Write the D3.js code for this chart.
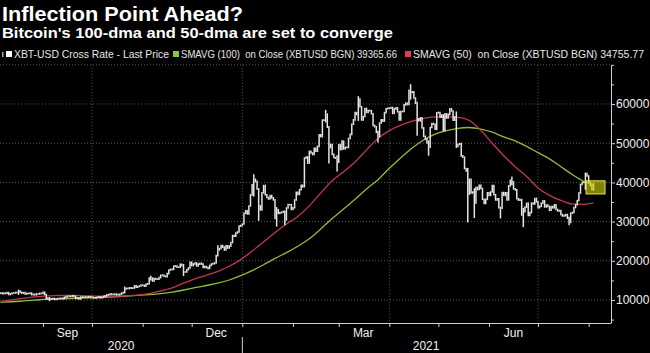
<!DOCTYPE html>
<html>
<head>
<meta charset="utf-8">
<script src="https://cdn.jsdelivr.net/npm/d3@7"></script>
<style>
    html, body { margin: 0; padding: 0; background: #000; }
    svg { display: block; }
    text { font-family: "Liberation Sans", Arial, sans-serif; }
</style>
</head>
<body>
<svg id="chart"></svg>
<script>
const width = 650, height = 353
const margin = {top: 64.8, bottom: 323, left: 0, right: 611}

// daily closes from 2020-08-06
const firstDay = "2020-08-06"
const closes = [
    // Aug 2020 (from 6th)
    11760, 11600, 11750, 11680, 11880, 11410, 11580, 11780, 11770, 11870, 11910, 12250, 11990, 11760, 11870, 11520, 11680, 11650, 11770, 11370, 11470, 11320, 11540, 11510, 11680, 11680,
    // Sep
    11970, 11410, 10250, 10510, 10170, 10280, 10370, 10130, 10240, 10360, 10400, 10440, 10330, 10680, 10800, 10950, 10940, 10930, 11090, 10920, 10420, 10540, 10240, 10740, 10690, 10730, 10770, 10710, 10840, 10780,
    // Oct
    10620, 10570, 10550, 10670, 10790, 10600, 10670, 10920, 11060, 11300, 11380, 11540, 11430, 11430, 11500, 11320, 11360, 11480, 11750, 11920, 12820, 12970, 12930, 13110, 13030, 13070, 13640, 13270, 13460, 13560, 13780,
    // Nov
    13740, 13550, 14020, 14150, 15590, 15580, 14840, 15480, 15330, 15300, 15700, 16280, 16320, 16070, 15960, 16720, 17650, 17800, 17820, 18620, 18680, 18370, 18360, 19110, 18730, 17150, 17140, 17720, 18180, 19630,
    // Dec
    18800, 19200, 19450, 18700, 19150, 19360, 19170, 18320, 18550, 18260, 18060, 18800, 19170, 19270, 19440, 21310, 22800, 23140, 23870, 23480, 22750, 23830, 23250, 23740, 24660, 26440, 26280, 27080, 27360, 28840, 29000,
    // Jan 2021
    29370, 32130, 32780, 31970, 33990, 36820, 39370, 40800, 40250, 38350, 34000, 33000, 37340, 39190, 36830, 36180, 35790, 36630, 36070, 35550, 30820, 33010, 32100, 32290, 32370, 32570, 30430, 33470, 34320, 34320, 33110,
    // Feb
    33540, 35510, 37470, 36930, 38140, 39270, 38900, 46200, 46480, 44920, 47910, 47500, 47100, 48720, 47940, 49200, 52150, 51680, 55890, 55890, 57410, 54090, 48890, 49680, 47140, 46340, 46190, 45140,
    // Mar
    49630, 48380, 50540, 48560, 48930, 48910, 51210, 52250, 54820, 55960, 57800, 57330, 61240, 59300, 55910, 56800, 58870, 57860, 58350, 58310, 57520, 54530, 54210, 52770, 51700, 55140, 55970, 55640, 57800, 58790, 58920,
    // Apr
    58920, 59100, 57600, 58760, 59060, 58020, 55950, 58080, 58090, 59770, 60200, 59890, 63500, 62970, 63110, 61530, 60200, 56220, 55720, 56470, 53910, 51760, 51090, 50050, 49000, 54020, 55030, 54830, 53560, 57750,
    // May
    57830, 56630, 57210, 53240, 57470, 56430, 57360, 58800, 58230, 55860, 56700, 49150, 49720, 49880, 46760, 46430, 43540, 42910, 37000, 40780, 37300, 37530, 34770, 38710, 38190, 39290, 38440, 35690, 34620, 35680, 37340,
    // Jun
    36690, 37570, 39190, 36870, 35520, 35800, 33550, 33400, 37390, 36690, 37340, 35550, 39100, 40520, 40140, 38350, 38090, 35820, 35480, 35600, 31680, 32500, 33680, 34660, 31590, 32280, 34700, 34500, 35910, 35040,
    // Jul
    33570, 33900, 34670, 35290, 33750, 34240, 33860, 32880, 33820, 33520, 34260, 33090, 32730, 32820, 31780, 31420, 31520, 31780, 30840, 29790, 32140, 32310, 33580, 34290, 35380, 37270, 39460, 40000, 40030, 42240, 41630,
    // Aug
    39970, 39200, 38150, 39750,
]

// intraday extremes on the big days [date, low, high]
const wicks = [
    ["2020-08-17", 11500, 12450], ["2020-09-05", 9900, 10550], ["2020-10-21", 11900, 13200],
    ["2020-11-06", 15200, 15950], ["2020-11-26", 16300, 19000], ["2020-12-17", 21300, 23750],
    ["2021-01-08", 36600, 41900], ["2021-01-11", 30400, 38300], ["2021-01-22", 28900, 33500],
    ["2021-01-27", 29300, 32600], ["2021-02-21", 55500, 58300], ["2021-02-23", 45000, 54200],
    ["2021-02-28", 43000, 46700], ["2021-03-13", 55900, 61800], ["2021-03-25", 50400, 53000],
    ["2021-04-14", 61300, 64850], ["2021-04-18", 52100, 60400], ["2021-04-25", 47000, 50500],
    ["2021-05-12", 49000, 57900], ["2021-05-19", 30000, 43500], ["2021-05-23", 31100, 38300],
    ["2021-06-08", 31000, 33600], ["2021-06-15", 39500, 41300], ["2021-06-22", 28800, 33300],
    ["2021-07-20", 29300, 31000], ["2021-07-30", 38300, 42300],
]

// weekly readings of the moving averages, from 2020-08-06
const sma100 = [
    9400, 9550, 9750, 9950, 10200, 10300, 10380, 10450, 10530, 10650, 10800, 11000, 11200,
    11400, 11650, 12000, 12550, 13150, 13700, 14300, 15100, 16200, 17500, 19000, 20600,
    22100, 23700, 25600, 28100, 30800, 33200, 35700, 38300, 40700, 43600, 46300, 48800,
    50800, 52300, 53200, 53800, 54000, 53600, 52800, 51600, 50600, 49200, 47600, 46000,
    44000, 42000, 40300, 39366,
]
const sma50 = [
    9650, 10050, 10450, 10800, 11050, 11150, 11200, 11120, 11020, 10950, 10970, 11080, 11260,
    11650, 12300, 13100, 14300, 15400, 16300, 17300, 18600, 20300, 22500, 24800, 27200,
    29400, 31300, 34000, 37300, 40400, 42700, 45200, 48300, 51200, 53200, 54600, 55600,
    56300, 56700, 56700, 56600, 55800, 53300, 50000, 46800, 44000, 41500, 38600, 36700,
    35400, 34500, 34400, 34756,
]

const yTicks = [10000, 20000, 30000, 40000, 50000, 60000]
const gridValues = [10000, 20000, 30000, 40000, 50000, 60000, 70000]
const monthLabels = [["2020-09-01", "Sep"], ["2020-12-01", "Dec"], ["2021-03-01", "Mar"], ["2021-06-01", "Jun"]]
const yearLabels = [["2020", "2020-08-05", "2021-01-01"], ["2021", "2021-01-01", "2021-08-14"]]
const highlight = {from: "2021-07-30T10:00", to: "2021-08-11", lo: 37050, hi: 40400}

const legendItems = [
    {label: "XBT-USD Cross Rate - Last Price", color: "#ffffff", x: 6, len: 155},
    {label: "SMAVG (100)  on Close (XBTUSD BGN) 39365.66", color: "#7ccc3c", x: 173, len: 216},
    {label: "SMAVG (50)  on Close (XBTUSD BGN) 34755.77", color: "#e8384f", x: 405, len: 231},
]

const parse = d3.utcParse("%Y-%m-%d")
const parseT = d3.utcParse("%Y-%m-%dT%H:%M")
const start = parse(firstDay)
const lastDay = d3.utcDay.offset(start, closes.length - 1)

const svg = d3.select("svg#chart")
    .attr("viewBox", [0, 0, width, height])
    .attr("width", width)
    .attr("height", height)

svg.append("rect").attr("width", width).attr("height", height).attr("fill", "#000")

const xScale = d3.scaleUtc()
    .domain([parseT("2020-08-05T16:00"), parseT("2021-08-14T16:00")])
    .range([margin.left, margin.right])

const yScale = d3.scaleLinear()
    .domain([4130, 70000])
    .range([margin.bottom, margin.top])

// titles
svg.append("text")
    .attr("x", 2).attr("y", 21)
    .attr("fill", "#fff").attr("font-size", 20).attr("font-weight", "bold")
    .attr("textLength", 241).attr("lengthAdjust", "spacingAndGlyphs")
    .text("Inflection Point Ahead?")

svg.append("text")
    .attr("x", 2).attr("y", 38)
    .attr("fill", "#fff").attr("font-size", 15).attr("font-weight", "bold")
    .attr("textLength", 391).attr("lengthAdjust", "spacingAndGlyphs")
    .text("Bitcoin's 100-dma and 50-dma are set to converge")

// legend
const legend = svg.append("g").classed("legend", true)
legend.append("rect").attr("x", 2).attr("y", 52).attr("width", 1.5).attr("height", 5).attr("fill", "#aaa")
legend.selectAll("rect.key")
    .data(legendItems)
    .enter()
    .append("rect").classed("key", true)
    .attr("x", d => d.x).attr("y", 51)
    .attr("width", 6).attr("height", 6)
    .attr("fill", d => d.color)
legend.selectAll("text")
    .data(legendItems)
    .enter()
    .append("text")
    .attr("x", d => d.x + 8).attr("y", 57.5)
    .attr("fill", "#e6e6e6").attr("font-size", 10.5)
    .attr("textLength", d => d.len).attr("lengthAdjust", "spacingAndGlyphs")
    .attr("xml:space", "preserve")
    .text(d => d.label)

// H grid lines
svg.append("g").classed("h-grid", true)
    .selectAll("line")
    .data(gridValues)
    .enter()
    .append("line")
    .attr("x1", margin.left)
    .attr("x2", margin.right)
    .attr("y1", d => yScale(d))
    .attr("y2", d => yScale(d))
    .attr("stroke", "#5a5a5a")
    .attr("stroke-dasharray", "1,2")

// V grid lines, quarter starts
svg.append("g").classed("v-grid", true)
    .selectAll("line")
    .data(d3.utcMonth.range(parse("2020-10-01"), parse("2021-08-01"), 3))
    .enter()
    .append("line")
    .attr("x1", d => xScale(d))
    .attr("x2", d => xScale(d))
    .attr("y1", margin.top)
    .attr("y2", margin.bottom)
    .attr("stroke", "#5a5a5a")
    .attr("stroke-dasharray", "1,2")

// moving averages
const smaDate = i => d3.min([d3.utcDay.offset(start, 7 * i), lastDay])
const line = d3.line()
    .x((d, i) => xScale(smaDate(i)))
    .y(d => yScale(d))
    .curve(d3.curveMonotoneX)

svg.append("path").datum(sma100)
    .attr("d", line)
    .attr("fill", "none")
    .attr("stroke", "#8fbc3a")
    .attr("stroke-width", 1.3)

svg.append("path").datum(sma50)
    .attr("d", line)
    .attr("fill", "none")
    .attr("stroke", "#c4364c")
    .attr("stroke-width", 1.3)

// price bars
const wickMap = new Map(wicks.map(([d, lo, hi]) => [d, {lo, hi}]))
const fmt = d3.utcFormat("%Y-%m-%d")
const bars = closes.map((c, i) => {
    const date = d3.utcDay.offset(start, i)
    const prev = i > 0 ? closes[i - 1] : c
    const w = wickMap.get(fmt(date))
    return {
        date,
        lo: Math.min(prev, c, w ? w.lo : Infinity),
        hi: Math.max(prev, c, w ? w.hi : -Infinity),
    }
})

svg.append("g").classed("price", true)
    .selectAll("line")
    .data(bars)
    .enter()
    .append("line")
    .attr("x1", d => xScale(d.date))
    .attr("x2", d => xScale(d.date))
    .attr("y1", d => yScale(d.lo) + 0.8)
    .attr("y2", d => yScale(d.hi) - 0.8)
    .attr("stroke", "#e4e4e4")
    .attr("stroke-width", 1.5)

// last price box
svg.append("rect")
    .attr("x", xScale(parseT(highlight.from)))
    .attr("y", yScale(highlight.hi))
    .attr("width", xScale(parse(highlight.to)) - xScale(parseT(highlight.from)))
    .attr("height", yScale(highlight.lo) - yScale(highlight.hi))
    .attr("fill", "#c8c810")
    .attr("fill-opacity", 0.65)
    .attr("stroke", "#eaea3a")
    .attr("stroke-width", 1)

// Y axis
const yAxis = svg.append("g").classed("y-axis", true)
    .attr("transform", `translate(${margin.right}, 0)`)
    .call(d3.axisRight(yScale).tickValues(yTicks).tickSize(4).tickSizeOuter(0).tickFormat(d3.format("d")))
yAxis.append("g")
    .call(d3.axisRight(yScale).tickValues([5000, 15000, 25000, 35000, 45000, 55000, 65000, 70000]).tickSize(3).tickFormat(""))
    .select(".domain").remove()
yAxis.selectAll("path, line").attr("stroke", "#d0d0d0")
yAxis.selectAll("text")
    .attr("fill", "#f0f0f0")
    .attr("font-size", 12)
    .attr("font-family", "Liberation Sans, Arial, sans-serif")
    .attr("x", 5)

// X axis
const xAxis = svg.append("g").classed("x-axis", true)
    .attr("transform", `translate(0, ${margin.bottom})`)
    .call(d3.axisBottom(xScale).ticks(d3.utcMonth.every(1)).tickSize(4).tickSizeOuter(0).tickFormat(""))
xAxis.select(".domain").attr("d", `M${margin.left},0.5H${margin.right}`)
xAxis.selectAll("path, line").attr("stroke", "#d0d0d0")

svg.append("g").classed("month-labels", true)
    .selectAll("text")
    .data(monthLabels)
    .enter()
    .append("text")
    .attr("x", d => xScale(d3.utcDay.offset(parse(d[0]), 15)))
    .attr("y", 337)
    .attr("text-anchor", "middle")
    .attr("fill", "#f0f0f0")
    .attr("font-size", 12)
    .text(d => d[1])

svg.append("g").classed("year-labels", true)
    .selectAll("text")
    .data(yearLabels)
    .enter()
    .append("text")
    .attr("x", d => (Math.max(0, xScale(parse(d[1]))) + Math.min(margin.right, xScale(parse(d[2])))) / 2)
    .attr("y", 350)
    .attr("text-anchor", "middle")
    .attr("fill", "#f0f0f0")
    .attr("font-size", 12)
    .text(d => d[0])

// year separator
svg.append("line")
    .attr("x1", xScale(parse("2021-01-01")))
    .attr("x2", xScale(parse("2021-01-01")))
    .attr("y1", 337).attr("y2", height)
    .attr("stroke", "#d0d0d0")
</script>
</body>
</html>
